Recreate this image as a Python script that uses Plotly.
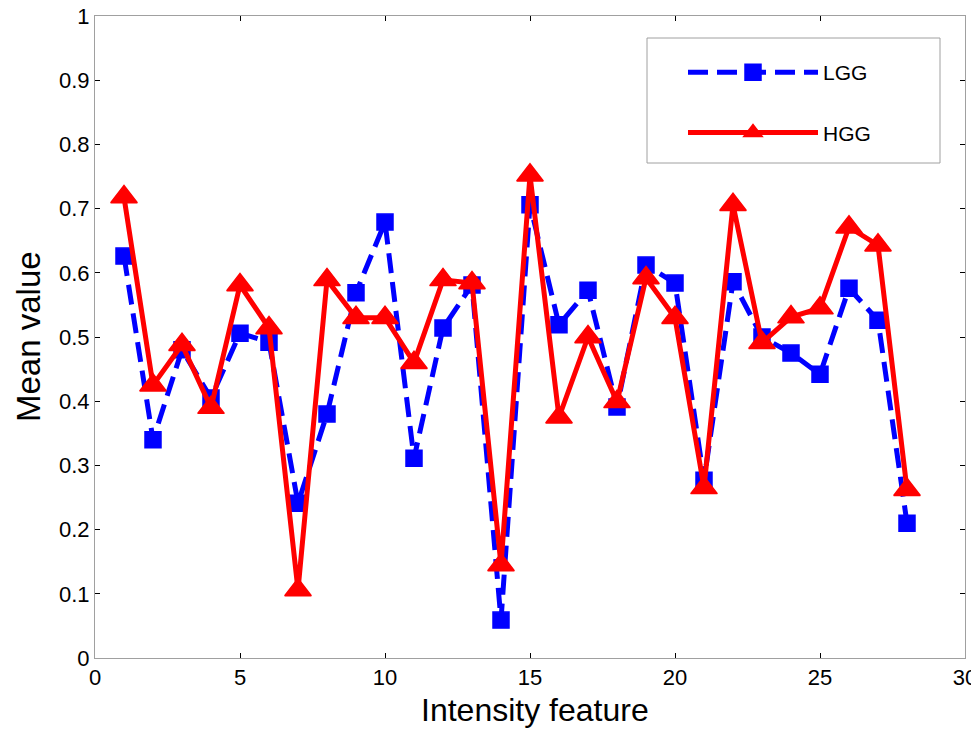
import plotly.graph_objects as go

features = list(range(1, 29))
lgg = [0.626, 0.340, 0.480, 0.405, 0.506, 0.492, 0.241, 0.380, 0.569, 0.679,
       0.311, 0.514, 0.581, 0.059, 0.706, 0.519, 0.573, 0.391, 0.612, 0.584,
       0.277, 0.586, 0.500, 0.475, 0.442, 0.576, 0.526, 0.210]
hgg = [0.718, 0.425, 0.488, 0.390, 0.581, 0.514, 0.106, 0.589, 0.530, 0.530,
       0.460, 0.589, 0.584, 0.145, 0.752, 0.375, 0.500, 0.399, 0.592, 0.530,
       0.265, 0.706, 0.491, 0.531, 0.545, 0.671, 0.643, 0.262]
x_ticks = [0, 5, 10, 15, 20, 25, 30]
y_ticks = [0, 0.1, 0.2, 0.3, 0.4, 0.5, 0.6, 0.7, 0.8, 0.9, 1]
y_tick_text = ["0", "0.1", "0.2", "0.3", "0.4", "0.5", "0.6", "0.7", "0.8", "0.9", "1"]

fig = go.Figure()
fig.add_trace(go.Scatter(
    x=features, y=lgg, name="LGG", mode="lines+markers", legendgroup="a",
    line=dict(color="#0000ff", width=5, dash="20px,9px"),
    marker=dict(symbol="square", size=16, color="#0000ff",
                line=dict(color="#0000ff", width=1.5)),
))
fig.add_trace(go.Scatter(
    x=features, y=hgg, name="HGG", mode="lines+markers", legendgroup="b",
    line=dict(color="#ff0000", width=5),
    marker=dict(symbol="triangle-up", size=23, color="#ff0000",
                line=dict(color="#ff0000", width=1.5)),
))

font = "Arial, Liberation Sans, sans-serif"
axis_common = dict(
    showline=True, linecolor="#a0a0a0", linewidth=1, mirror="allticks",
    ticks="inside", ticklen=5, tickcolor="black", tickwidth=1,
    showgrid=False, zeroline=False, automargin=False, ticklabeloverflow="allow",
    tickfont=dict(family=font, size=22, color="black"),
)
fig.update_xaxes(range=[0, 30], tickvals=x_ticks, **axis_common)
fig.update_yaxes(range=[0, 1], tickvals=y_ticks, ticktext=y_tick_text, **axis_common)

fig.add_annotation(text="Intensity feature", xref="paper", yref="paper",
                   x=(535 - 95) / 870, y=(658 - 710) / 642, xanchor="center", yanchor="middle",
                   showarrow=False, font=dict(family=font, size=32, color="black"))
fig.add_annotation(text="Mean value", xref="paper", yref="paper", textangle=-90,
                   x=(28 - 95) / 870, y=(658 - 337) / 642, xanchor="center", yanchor="middle",
                   showarrow=False, font=dict(family=font, size=33, color="black"))

fig.add_shape(type="rect", xref="paper", yref="paper",
              x0=(647 - 95) / 870, x1=(940 - 95) / 870,
              y0=(658 - 163) / 642, y1=(658 - 38) / 642,
              line=dict(color="#a0a0a0", width=1), fillcolor="white", layer="below")

# page body has an 8px margin, so the figure is offset by 8px; compensate
fig.update_layout(
    width=971, height=723,
    margin=dict(l=87, r=14, t=8, b=73, autoexpand=False),
    plot_bgcolor="white", paper_bgcolor="white",
    showlegend=True,
    legend=dict(x=(683 - 95) / 870, y=(658 - 52) / 642, xanchor="left", yanchor="top",
                bgcolor="rgba(0,0,0,0)", borderwidth=0, tracegroupgap=30,
                font=dict(family=font, size=21, color="black"), itemwidth=130),
)

fig.write_html("out.html")
